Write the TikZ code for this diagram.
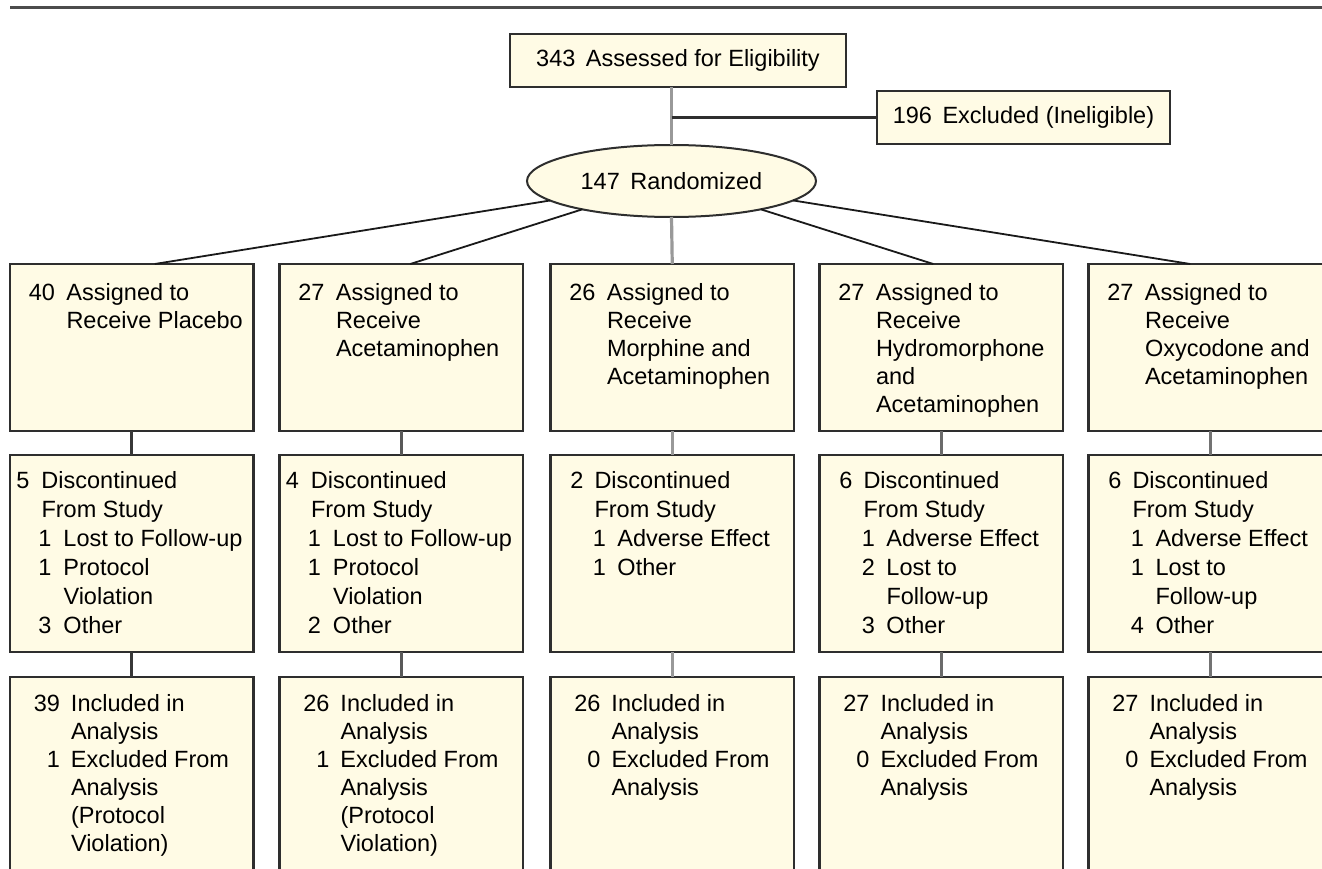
\documentclass[tikz,border=0pt]{standalone}
\usepackage{fontspec}
\setmainfont{Liberation Sans}
\usetikzlibrary{shapes.geometric}
\definecolor{boxfill}{HTML}{FFFBE5}
\definecolor{boxline}{HTML}{2E2E2E}
\newcommand\li[4]{\makebox[0pt][l]{\makebox[#1][r]{#2}}\hspace*{#3}#4}
\newcommand\RA[2]{\li{45pt}{#1}{56.5pt}{#2}}
\newcommand\PA[2]{\li{19.5pt}{#1}{31.5pt}{#2}}
\newcommand\PB[2]{\li{41.5pt}{#1}{53.5pt}{#2}}
\newcommand\QA[2]{\li{33pt}{#1}{44pt}{#2}}
\newcommand\QB[2]{\li{55.5pt}{#1}{67pt}{#2}}
\newcommand\RC[2]{\li{50pt}{#1}{61pt}{#2}}
\begin{document}
\begin{tikzpicture}[x=1pt,y=-1pt,
  box/.style={draw=boxline, fill=boxfill, line width=2.3pt, inner sep=0pt, outer sep=0pt, rectangle},
  colbox/.style={box, anchor=north west, minimum width=243.5pt},
  txt/.style={inner sep=0pt, outer sep=0pt, anchor=base west, font=\fontsize{23.5}{28}\selectfont},
  txtb/.style={txt, font=\fontsize{23.5}{29}\selectfont},
  ctxt/.style={font=\fontsize{23.5}{28}\selectfont},
  fan/.style={draw=black!90, line width=1.8pt},
  gline/.style={draw=black!40, line width=3.2pt},
  vc1/.style={draw=black!78, line width=2.8pt},
  vc2/.style={draw=black!65, line width=2.8pt},
  vc3/.style={draw=black!40, line width=3pt},
  vc4/.style={draw=black!58, line width=2.8pt},
  vc5/.style={draw=black!55, line width=2.8pt}]
\useasboundingbox (0,0) rectangle (1322,869);
\fill[white] (0,0) rectangle (1322,869);
\clip (0,0) rectangle (1322,869);
\coordinate (ruleL) at (10,8);
\coordinate (ruleR) at (1322,8);
\draw[draw=black!70, line width=3pt] (ruleL) -- (ruleR);

% top nodes
\node[box, minimum width=336pt, minimum height=53pt, ctxt] (top) at (678,60.5) {343\hspace{0.45em}Assessed for Eligibility};
\node[box, minimum width=293pt, minimum height=53pt, ctxt] (excl) at (1023.5,117.5) {196\hspace{0.45em}Excluded (Ineligible)};

% row 1
\node[colbox, minimum height=167pt] (a1) at (10,264) {};
\node[colbox, minimum height=167pt] (a2) at (279.5,264) {};
\node[colbox, minimum height=167pt] (a3) at (550.5,264) {};
\node[colbox, minimum height=167pt] (a4) at (819.5,264) {};
\node[colbox, minimum height=167pt] (a5) at (1088.5,264) {};
% row 2
\node[colbox, minimum height=197pt] (b1) at (10,455) {};
\node[colbox, minimum height=197pt] (b2) at (279.5,455) {};
\node[colbox, minimum height=197pt] (b3) at (550.5,455) {};
\node[colbox, minimum height=197pt] (b4) at (819.5,455) {};
\node[colbox, minimum height=197pt] (b5) at (1088.5,455) {};
% row 3
\node[colbox, minimum height=230pt] (c1) at (10,677) {};
\node[colbox, minimum height=230pt] (c2) at (279.5,677) {};
\node[colbox, minimum height=230pt] (c3) at (550.5,677) {};
\node[colbox, minimum height=230pt] (c4) at (819.5,677) {};
\node[colbox, minimum height=230pt] (c5) at (1088.5,677) {};

\node[ellipse, draw=boxline, fill=boxfill, line width=2pt, minimum width=289pt, minimum height=72pt, inner sep=0pt, outer sep=0pt, ctxt] (rand) at (671.5,181) {147\hspace{0.45em}Randomized};

% connectors
\draw[gline] (top.south -| rand.north) -- (rand.north);
\coordinate (branch) at (excl.west -| rand.north);
\draw[draw=boxline, line width=2.3pt] (branch) -- (excl.west);
\draw[gline] (rand.south) -- (a3.north);
\draw[fan] (rand) -- ([xshift=23pt]a1.north);
\draw[fan] (rand) -- ([xshift=9pt]a2.north);
\draw[fan] (rand) -- ([xshift=-8pt]a4.north);
\draw[fan] (rand) -- ([xshift=-20pt]a5.north);
\draw[vc1] (a1.south) -- (b1.north);
\draw[vc1] (b1.south) -- (c1.north);
\draw[vc2] (a2.south) -- (b2.north);
\draw[vc2] (b2.south) -- (c2.north);
\draw[vc3] (a3.south) -- (b3.north);
\draw[vc3] (b3.south) -- (c3.north);
\draw[vc4] (a4.south) -- (b4.north);
\draw[vc4] (b4.south) -- (c4.north);
\draw[vc5] (a5.south) -- (b5.north);
\draw[vc5] (b5.south) -- (c5.north);

% row 1 texts
\node[txt] (a1t) at ([yshift=-36pt]a1.north west) {\begin{tabular}[t]{@{}l@{}}\RA{40}{Assigned to}\\\RA{}{Receive Placebo}\end{tabular}};
\node[txt] (a2t) at ([yshift=-36pt]a2.north west) {\begin{tabular}[t]{@{}l@{}}\RA{27}{Assigned to}\\\RA{}{Receive}\\\RA{}{Acetaminophen}\end{tabular}};
\node[txt] (a3t) at ([yshift=-36pt]a3.north west) {\begin{tabular}[t]{@{}l@{}}\RA{26}{Assigned to}\\\RA{}{Receive}\\\RA{}{Morphine and}\\\RA{}{Acetaminophen}\end{tabular}};
\node[txt] (a4t) at ([yshift=-36pt]a4.north west) {\begin{tabular}[t]{@{}l@{}}\RA{27}{Assigned to}\\\RA{}{Receive}\\\RA{}{Hydromorphone}\\\RA{}{and}\\\RA{}{Acetaminophen}\end{tabular}};
\node[txt] (a5t) at ([yshift=-36pt]a5.north west) {\begin{tabular}[t]{@{}l@{}}\RA{27}{Assigned to}\\\RA{}{Receive}\\\RA{}{Oxycodone and}\\\RA{}{Acetaminophen}\end{tabular}};

% row 2 texts
\node[txtb] (b1t) at ([yshift=-33pt]b1.north west) {\begin{tabular}[t]{@{}l@{}}\PA{5}{Discontinued}\\\PA{}{From Study}\\\PB{1}{Lost to Follow-up}\\\PB{1}{Protocol}\\\PB{}{Violation}\\\PB{3}{Other}\end{tabular}};
\node[txtb] (b2t) at ([yshift=-33pt]b2.north west) {\begin{tabular}[t]{@{}l@{}}\PA{4}{Discontinued}\\\PA{}{From Study}\\\PB{1}{Lost to Follow-up}\\\PB{1}{Protocol}\\\PB{}{Violation}\\\PB{2}{Other}\end{tabular}};
\node[txtb] (b3t) at ([yshift=-33pt]b3.north west) {\begin{tabular}[t]{@{}l@{}}\QA{2}{Discontinued}\\\QA{}{From Study}\\\QB{1}{Adverse Effect}\\\QB{1}{Other}\end{tabular}};
\node[txtb] (b4t) at ([yshift=-33pt]b4.north west) {\begin{tabular}[t]{@{}l@{}}\QA{6}{Discontinued}\\\QA{}{From Study}\\\QB{1}{Adverse Effect}\\\QB{2}{Lost to}\\\QB{}{Follow-up}\\\QB{3}{Other}\end{tabular}};
\node[txtb] (b5t) at ([yshift=-33pt]b5.north west) {\begin{tabular}[t]{@{}l@{}}\QA{6}{Discontinued}\\\QA{}{From Study}\\\QB{1}{Adverse Effect}\\\QB{1}{Lost to}\\\QB{}{Follow-up}\\\QB{4}{Other}\end{tabular}};

% row 3 texts
\node[txt] (c1t) at ([yshift=-34pt]c1.north west) {\begin{tabular}[t]{@{}l@{}}\RC{39}{Included in}\\\RC{}{Analysis}\\\RC{1}{Excluded From}\\\RC{}{Analysis}\\\RC{}{(Protocol}\\\RC{}{Violation)}\end{tabular}};
\node[txt] (c2t) at ([yshift=-34pt]c2.north west) {\begin{tabular}[t]{@{}l@{}}\RC{26}{Included in}\\\RC{}{Analysis}\\\RC{1}{Excluded From}\\\RC{}{Analysis}\\\RC{}{(Protocol}\\\RC{}{Violation)}\end{tabular}};
\node[txt] (c3t) at ([yshift=-34pt]c3.north west) {\begin{tabular}[t]{@{}l@{}}\RC{26}{Included in}\\\RC{}{Analysis}\\\RC{0}{Excluded From}\\\RC{}{Analysis}\end{tabular}};
\node[txt] (c4t) at ([yshift=-34pt]c4.north west) {\begin{tabular}[t]{@{}l@{}}\RC{27}{Included in}\\\RC{}{Analysis}\\\RC{0}{Excluded From}\\\RC{}{Analysis}\end{tabular}};
\node[txt] (c5t) at ([yshift=-34pt]c5.north west) {\begin{tabular}[t]{@{}l@{}}\RC{27}{Included in}\\\RC{}{Analysis}\\\RC{0}{Excluded From}\\\RC{}{Analysis}\end{tabular}};
\end{tikzpicture}
\end{document}
